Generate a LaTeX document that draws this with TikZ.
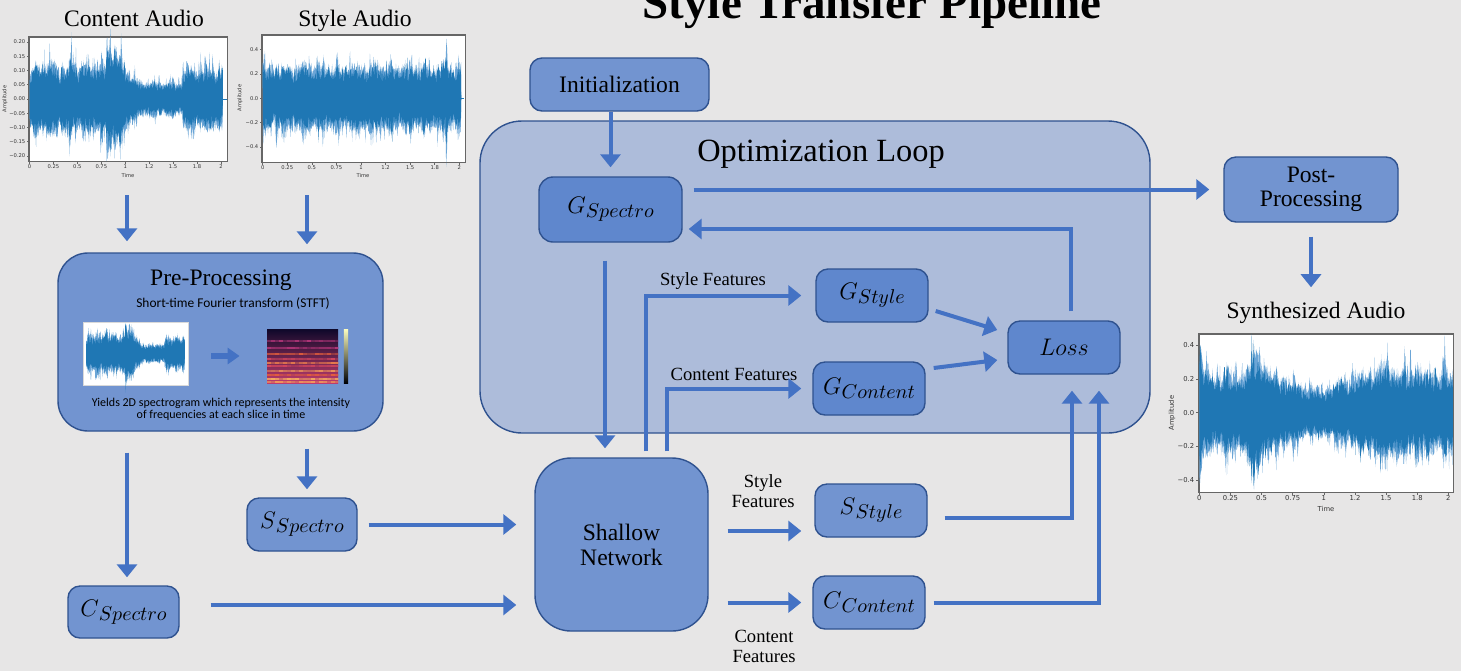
\documentclass[tikz,border=0pt]{standalone}
\usepackage{fontspec}
\setmainfont{Liberation Serif}
\newfontfamily\calibfont{Carlito}
\newfontfamily\plotfont{DejaVu Sans}
\usetikzlibrary{arrows.meta,calc}

\definecolor{pagebg}{HTML}{E7E6E6}
\definecolor{boxfill}{HTML}{7294D0}
\definecolor{innerfill}{HTML}{5F87CD}
\definecolor{loopfill}{HTML}{ADBCDA}
\definecolor{boxline}{HTML}{2F528F}
\definecolor{arrowblue}{HTML}{4472C4}
\definecolor{wavedark}{HTML}{1F77B4}
\definecolor{wavelight}{HTML}{6BA5D6}
\definecolor{axisgray}{HTML}{666666}
\definecolor{ticktext}{HTML}{333333}
\definecolor{specA}{HTML}{E8603B}
\definecolor{specB}{HTML}{F2844B}
\definecolor{specC}{HTML}{D9485F}
\definecolor{specD}{HTML}{F79D5A}
\definecolor{specE}{HTML}{B5367A}
\definecolor{specF}{HTML}{FCB460}

% symbol with an italic subscript, e.g. G_{Spectro}
\newcommand\msym[2]{{\fontsize{12.5}{14}\selectfont$#1$}\raisebox{-2pt}{\fontsize{9.8}{11}\selectfont$#2$}}

% waveform band: #1 envelope, #2 last time value, #3 samples, #4 seed
\newcommand\wavefill[4]{%
  \pgfmathsetseed{#4}%
  \fill[wavelight] plot[domain=0:#2, samples=#3] (\x,{#1(\x)*wmod(\x)*(0.66+0.42*rnd+0.5*pow(rnd,8))})
    -- plot[domain=#2:0, samples=#3] (\x,{-#1(\x)*wmod(\x)*(0.66+0.42*rnd+0.5*pow(rnd,8))}) -- cycle;
  \fill[wavedark] plot[domain=0:#2, samples=#3] (\x,{#1(\x)*wmod(\x)*(0.5+0.42*rnd+0.4*pow(rnd,6))})
    -- plot[domain=#2:0, samples=#3] (\x,{-#1(\x)*wmod(\x)*(0.5+0.42*rnd+0.4*pow(rnd,6))}) -- cycle;
}

% time ticks: #1 name prefix, #2 x of t=0, #3 px per second, #4 frame bottom, #5 label style
\newcommand\timeticks[5]{%
  \foreach \tv/\lab [count=\i] in {0/0,0.25/0.25,0.5/0.5,0.75/0.75,1/1,1.25/1.2,1.5/1.5,1.75/1.8,2/2}{
    \draw[axisgray, line width=0.3pt] ({#2+#3*\tv},#4) -- ++(0,2.5);
    \node[#5, anchor=north] (#1\i) at ({#2+#3*\tv},{#4+2.5}) {\lab};
  }}

\tikzset{
  declare function={
    bump(\x,\m,\w)=max(0,1-abs(\x-\m)/\w);
    wmod(\x)=1+0.09*sin(2000*\x)+0.07*sin(5300*\x+40)+0.05*sin(7700*\x+15);
    envc(\x)=(\x<0.05) ? (0.075+0.9*\x) : ((\x<0.8) ? (0.122+0.045*bump(\x,0.44,0.012)) : ((\x<0.84) ? 0.2 : ((\x<1.0) ? (0.2-0.5*(\x-0.84)) : ((\x<1.13) ? (0.12-0.45*(\x-1.0)) : ((\x<1.6) ? 0.058 : ((\x<2.02) ? 0.105 : 0.002))))));
    envs(\x)=(\x<2.02) ? (0.26+0.14*bump(\x,0.14,0.012)+0.05*bump(\x,0.45,0.03)+0.05*bump(\x,1.2,0.04)+0.25*bump(\x,1.87,0.012)) : 0.003;
    envy(\x)=(\x<2.04) ? (0.23+0.15*bump(\x,0,0.05)+0.16*bump(\x,0.46,0.1)-0.1*bump(\x,0.95,0.35)+0.05*bump(\x,1.5,0.2)+0.13*bump(\x,1.75,0.03)+0.12*bump(\x,1.96,0.03)) : 0.003;
  },
  box/.style={draw=boxline, line width=0.7pt, fill=boxfill, rounded corners=6pt,
    inner sep=0pt, align=center, font=\fontsize{11.8}{12}\selectfont},
  gbox/.style={box, fill=innerfill},
  arr/.style={draw=arrowblue, line width=2pt, -{Triangle[width=10pt,length=6.5pt]}},
  featlbl/.style={font=\fontsize{9.3}{10}\selectfont, inner sep=0pt, align=center},
  heading/.style={font=\fontsize{11.8}{13}\selectfont, inner sep=0pt, anchor=base},
  tickA/.style={font=\plotfont\fontsize{2.6}{3}\selectfont, text=ticktext, inner sep=0.4pt},
  tickB/.style={font=\plotfont\fontsize{3.4}{4}\selectfont, text=ticktext, inner sep=0.5pt},
  plotframe/.style={draw=axisgray, line width=0.35pt, fill=white, inner sep=0pt},
}

\begin{document}
\begin{tikzpicture}[x=0.5pt,y=-0.5pt]
\useasboundingbox (0,0) rectangle (1461,671);
\fill[pagebg] (0,0) rectangle (1461,671);
\clip (0,0) rectangle (1461,671);

% ---------- title ----------
\node[font=\bfseries\fontsize{23.5}{28}\selectfont, anchor=base, inner sep=0pt] (title) at (872,18) {Style Transfer Pipeline};

% ---------- content audio ----------
\node[heading] (calbl) at (134,26) {Content Audio};
\node[plotframe, minimum width=99pt, minimum height=62pt] (cplot) at (128,99) {};
\begin{scope}[shift={(29.5,99)}, x=47.875pt, y=142.5pt]
  \wavefill{envc}{2.02}{420}{11}
  \draw[wavedark, line width=0.4pt] (2.02,0) -- (2.06,0);
\end{scope}
\draw[axisgray, line width=0.35pt] (cplot.south west) rectangle (cplot.north east);
\foreach \v/\lab [count=\i] in {0.20/0.20,0.15/0.15,0.10/0.10,0.05/0.05,0/0.00,-0.05/−0.05,-0.10/−0.10,-0.15/−0.15,-0.20/−0.20}{
  \draw[axisgray, line width=0.3pt] (29,{99-285*\v}) -- ++(-2.5,0);
  \node[tickA, anchor=east] (cy\i) at (26.5,{99-285*\v}) {\lab};
}
\timeticks{cx}{29.5}{95.75}{161}{tickA}
\node[tickA] (ctime) at (128,175.5) {Time};
\node[tickA, rotate=90] (camp) at (5,99) {Amplitude};

% ---------- style audio ----------
\node[heading] (slbl) at (355,26) {Style Audio};
\node[plotframe, minimum width=101.5pt, minimum height=63.5pt] (splot) at (363.5,98.5) {};
\begin{scope}[shift={(262.7,98.3)}, x=49.15pt, y=60.875pt]
  \wavefill{envs}{2.02}{420}{23}
  \draw[wavedark, line width=0.4pt] (2.02,0) -- (2.05,0);
\end{scope}
\draw[axisgray, line width=0.35pt] (splot.south west) rectangle (splot.north east);
\foreach \v/\lab [count=\i] in {0.4/0.4,0.2/0.2,0/0.0,-0.2/−0.2,-0.4/−0.4}{
  \draw[axisgray, line width=0.3pt] (262,{98.3-121.75*\v}) -- ++(-2.5,0);
  \node[tickA, anchor=east] (sy\i) at (259.5,{98.3-121.75*\v}) {\lab};
}
\timeticks{sx}{262.7}{98.3}{162}{tickA}
\node[tickA] (stime) at (363,175.5) {Time};
\node[tickA, rotate=90] (samp) at (240,98) {Amplitude};

% ---------- synthesized audio ----------
\node[heading] (synlbl) at (1316,318) {Synthesized Audio};
\node[plotframe, minimum width=127pt, minimum height=79pt] (yplot) at (1326,413) {};
\begin{scope}[shift={(1199.3,412.7)}, x=62.25pt, y=84pt]
  \wavefill{envy}{2.04}{480}{5}
\end{scope}
\draw[axisgray, line width=0.35pt] (yplot.south west) rectangle (yplot.north east);
\foreach \v/\lab [count=\i] in {0.4/0.4,0.2/0.2,0/0.0,-0.2/−0.2,-0.4/−0.4}{
  \draw[axisgray, line width=0.3pt] (1199,{412.7-168*\v}) -- ++(-3,0);
  \node[tickB, anchor=east] (yy\i) at (1195.5,{412.7-168*\v}) {\lab};
}
\timeticks{yx}{1199.3}{124.5}{492}{tickB}
\node[tickB] (ytime) at (1326,509) {Time};
\node[tickB, rotate=90] (yamp) at (1172,413) {Amplitude};

% ---------- pre-processing ----------
\node[box, rounded corners=15pt, minimum width=162.5pt, minimum height=89pt] (pre) at (220.5,342) {};
\node[font=\fontsize{11.8}{13}\selectfont, anchor=base, inner sep=0pt] (prettl) at (221,285) {Pre-Processing};
\node[font=\calibfont\fontsize{6.7}{7}\selectfont, anchor=base, inner sep=0pt] (stft) at (233,307) {Short-time Fourier transform (STFT)};
\node[font=\calibfont\fontsize{6}{6.2}\selectfont, inner sep=0pt, anchor=base] (yields) at (221,406) {Yields 2D spectrogram which represents the intensity};
\node[font=\calibfont\fontsize{6}{6.2}\selectfont, inner sep=0pt, anchor=base] (yields2) at (221,418) {of frequencies at each slice in time};

% small raw waveform
\node[fill=white, draw=white!85!black, line width=0.3pt, minimum width=52.5pt, minimum height=31.5pt, inner sep=0pt] (rawmini) at (135.5,353.5) {};
\begin{scope}[shift={(86,353.5)}, x=24.5pt, y=75pt]
  \wavefill{envc}{2.02}{240}{3}
\end{scope}

% small spectrogram with colour bar
\node[shade, top color={rgb,255:red,14;green,8;blue,42}, middle color={rgb,255:red,95;green,24;blue,125},
  bottom color={rgb,255:red,190;green,60;blue,110}, minimum width=35.5pt, minimum height=27pt, inner sep=0pt] (specmini) at (302.5,356) {};
\begin{scope}
  \clip (specmini.south west) rectangle (specmini.north east);
  \pgfmathsetseed{9}
  \foreach \yy/\cc in {341/specE,348/specE,354/specA,359/specC,363/specB,366/specC,371/specD,375/specA,379/specF,382/specD}{
    \foreach \xx in {267,271,...,335}{
      \pgfmathsetmacro\op{0.35+0.6*rnd}
      \fill[\cc, opacity=\op] (\xx,\yy-0.9) rectangle ++(4,1.8);
    }
  }
\end{scope}
\node[shade, top color={rgb,255:red,252;green,253;blue,191}, middle color={rgb,255:red,222;green,73;blue,104},
  bottom color={rgb,255:red,0;green,0;blue,4}, minimum width=2.2pt, minimum height=27pt, inner sep=0pt] (cbar) at (346,356) {};
\draw[draw=arrowblue, line width=2.6pt, -{Triangle[width=8pt,length=6pt]}, shorten <=11.5pt, shorten >=13.5pt] (rawmini.east |- specmini.west) -- (specmini.west);

% ---------- spectrogram inputs ----------
\node[box, minimum width=55pt, minimum height=26.5pt] (sspec) at (302,524.5) {\msym{S}{Spectro}};
\node[box, minimum width=55.5pt, minimum height=26pt] (cspec) at (123.5,612) {\msym{C}{Spectro}};

% ---------- optimization loop ----------
\node[draw=boxline, fill=loopfill, line width=0.7pt, rounded corners=21pt, minimum width=335pt, minimum height=156pt, inner sep=0pt] (loop) at (815,277) {};
\node[font=\fontsize{16.2}{18}\selectfont, anchor=base, inner sep=0pt] (looplbl) at (821,161) {Optimization Loop};
\node[box, minimum width=89.5pt, minimum height=26.5pt] (init) at (619.5,84.5) {Initialization};
\node[gbox, rounded corners=7pt, minimum width=71.5pt, minimum height=32.5pt] (gspec) at (610.5,209.5) {\msym{G}{Spectro}};
\node[gbox, minimum width=56pt, minimum height=26.5pt] (gstyle) at (872,295.5) {\msym{G}{Style}};
\node[gbox, minimum width=56pt, minimum height=26.5pt] (gcont) at (869,388.5) {\msym{G}{Content}};
\node[gbox, minimum width=56pt, minimum height=26.5pt] (loss) at (1064,347.5) {\fontsize{12}{14}\selectfont$Loss$};
\node[box, minimum width=87pt, minimum height=32.5pt] (post) at (1311,189.5) {Post-\\Processing};

% ---------- network and features ----------
\node[box, rounded corners=18pt, minimum width=86.5pt, minimum height=86.5pt, font=\fontsize{11.8}{12.5}\selectfont] (shallow) at (621.5,544.5) {Shallow\\Network};
\node[box, minimum width=56pt, minimum height=26.5pt] (sstyle) at (871,510.5) {\msym{S}{Style}};
\node[box, minimum width=56pt, minimum height=26.5pt] (ccont) at (869,602.5) {\msym{C}{Content}};

\node[featlbl] (gsflbl) at (713,281) {Style Features};
\node[featlbl] (gcflbl) at (734,374) {Content Features};
\node[featlbl] (ssflbl) at (763,491) {Style\\Features};
\node[featlbl] (ccflbl) at (764,646) {Content\\Features};

% ---------- connectors ----------
\coordinate (caout) at (127,195);
\coordinate (saout) at (307,195);
\draw[arr] (caout) -- ($(caout |- pre.north)+(0,5.5pt)$);
\draw[arr] (saout) -- ($(saout |- pre.north)+(0,4pt)$);

\coordinate (cspin) at ($(cspec.north)+(1.75pt,4pt)$);
\draw[arr] ($(cspin |- pre.south)+(0,-10.5pt)$) -- (cspin);
\coordinate (sspin) at ($(sspec.north)+(2.5pt,4pt)$);
\draw[arr] ($(sspin |- pre.south)+(0,-8.5pt)$) -- (sspin);

\draw[arr] ($(sspec.east)+(5.5pt,0)$) -- ($(shallow.west |- sspec.east)+(-9pt,0)$);
\coordinate (csout) at ($(cspec.east)+(15.5pt,3.5pt)$);
\draw[arr] (csout) -- ($(shallow.west |- csout)+(-9pt,0)$);

\draw[arr] (gspec.north |- init.south) -- ($(gspec.north)+(0,4.5pt)$);
\draw[arr] ($(gspec.east |- post.west)+(5.5pt,0)$) -- ($(post.west)+(-7pt,0)$);
\draw[arr] ($(post.south)+(0,-7pt)$) -- ($(post.south |- synlbl.north)+(0,7pt)$);

\coordinate (gsdown) at ($(gspec.south)+(-2.75pt,-9pt)$);
\draw[arr] (gsdown) -- ($(gsdown |- shallow.north)+(0,4.5pt)$);

\coordinate (sfup) at ($(shallow.north)+(12.25pt,3pt)$);
\draw[arr] (sfup) |- ($(gstyle.west)+(-7pt,0)$);
\coordinate (cfup) at ($(shallow.north)+(22.75pt,3pt)$);
\draw[arr] (cfup) |- ($(gcont.west)+(-5.5pt,0)$);

\draw[arr] ($(gstyle.east)+(3.5pt,-7.75pt)$) -- ($(loss.west)+(-5pt,8.75pt)$);
\draw[arr] ($(gcont.east)+(4pt,10.25pt)$) -- ($(loss.west)+(-5pt,-6.25pt)$);
\draw[arr] ($(loss.north)+(3.5pt,4.5pt)$) |- ($(gspec.east)+(3pt,-9.75pt)$);

\coordinate (ssin) at ($(sstyle.west)+(-6.5pt,-10.25pt)$);
\draw[arr] ($(shallow.east |- ssin)+(9.5pt,0)$) -- (ssin);
\draw[arr] ($(shallow.east |- ccont.west)+(9.5pt,0)$) -- ($(ccont.west)+(-5.5pt,0)$);

\draw[arr] ($(sstyle.east)+(8.5pt,-3.75pt)$) -| ($(loss.south)+(4pt,-8pt)$);
\draw[arr] ($(ccont.east)+(4pt,0)$) -| ($(loss.south)+(17.5pt,-8pt)$);
\end{tikzpicture}
\end{document}
